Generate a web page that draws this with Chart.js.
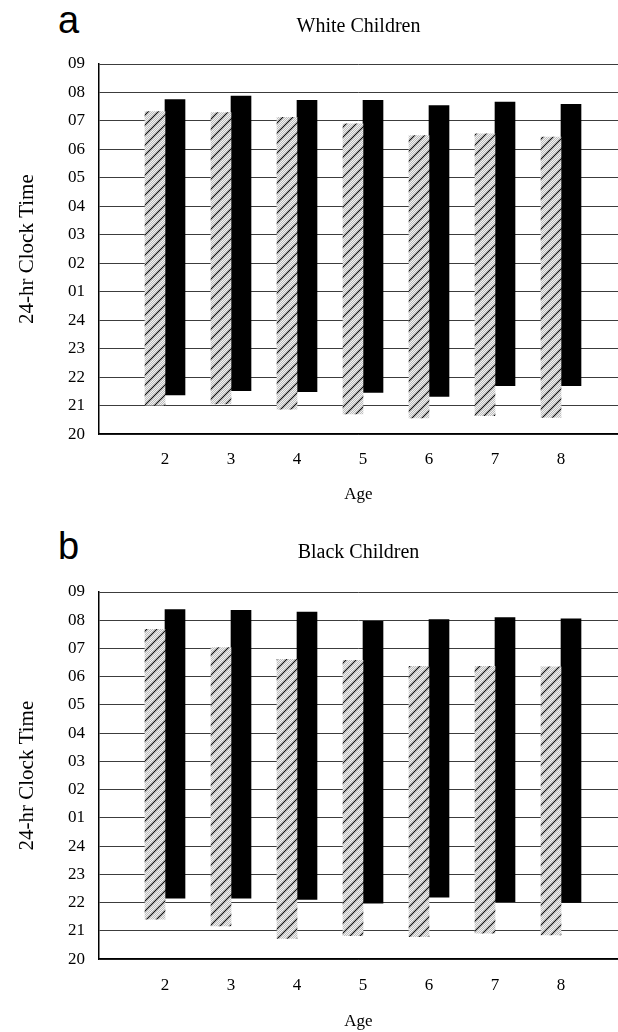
<!DOCTYPE html>
<html>
<head>
<meta charset="utf-8">
<script src="https://cdn.jsdelivr.net/npm/chart.js@4.4.1/dist/chart.umd.min.js"></script>
<style>
  html, body { margin: 0; padding: 0; background: #fff; }
  body { width: 618px; height: 1032px; position: relative; overflow: hidden; }
  .panel { position: absolute; left: 0; width: 618px; }
  .letter { position: absolute; left: 58px; font: 38px/1 "Liberation Sans", Arial, sans-serif; color: #000; }
</style>
</head>
<body>
<div class="letter" style="top:1px">a</div>
<div class="letter" style="top:527px">b</div>
<div class="panel" style="top:0;height:516px"><canvas id="chartWhite" width="618" height="516"></canvas></div>
<div class="panel" style="top:516px;height:516px"><canvas id="chartBlack" width="618" height="516"></canvas></div>
<script>
// hours on a continuous scale: 24 = midnight, 25 = 01, ... 33 = 09
const ages = [2, 3, 4, 5, 6, 7, 8];
const yTickLabels = ['20', '21', '22', '23', '24', '01', '02', '03', '04', '05', '06', '07', '08', '09'];

const whiteHatchedStart = [21.02, 21.06, 20.88, 20.71, 20.57, 20.65, 20.59];
const whiteHatchedEnd   = [31.33, 31.29, 31.13, 30.90, 30.49, 30.55, 30.43];
const whiteSolidStart   = [21.38, 21.53, 21.49, 21.47, 21.33, 21.70, 21.70];
const whiteSolidEnd     = [31.75, 31.87, 31.72, 31.72, 31.54, 31.66, 31.58];

const blackHatchedStart = [21.42, 21.18, 20.74, 20.83, 20.80, 20.92, 20.86];
const blackHatchedEnd   = [31.68, 31.03, 30.62, 30.58, 30.37, 30.37, 30.35];
const blackSolidStart   = [22.16, 22.16, 22.12, 21.98, 22.20, 22.04, 22.01];
const blackSolidEnd     = [32.38, 32.35, 32.29, 31.96, 32.02, 32.09, 32.05];

const serif = '"Liberation Serif", "Times New Roman", serif';

// stippled grey with "/" hatching
function hatchPattern() {
  const tile = document.createElement('canvas');
  tile.width = 10; tile.height = 10;
  const c = tile.getContext('2d');
  for (let y = 0; y < 10; y++) {
    for (let x = 0; x < 10; x++) {
      c.fillStyle = (x + y) % 2 ? '#bdbdbd' : '#f2f2f2';
      c.fillRect(x, y, 1, 1);
    }
  }
  c.strokeStyle = '#111';
  c.lineWidth = 1.2;
  c.beginPath();
  c.moveTo(-1, 11); c.lineTo(11, -1);
  c.moveTo(-1, 1); c.lineTo(1, -1);
  c.moveTo(9, 11); c.lineTo(11, 9);
  c.stroke();
  return c.createPattern(tile, 'repeat');
}

function pairs(lo, hi) {
  return ages.map((a, i) => ({ x: a, y: [lo[i], hi[i]] }));
}

function makeChart(id, title, hLo, hHi, sLo, sHi, lay) {
  const ctx = document.getElementById(id);
  return new Chart(ctx, {
    type: 'bar',
    data: {
      datasets: [
        { label: 'hatched', data: pairs(hLo, hHi), backgroundColor: hatchPattern(), borderWidth: 0, barThickness: 20 },
        { label: 'solid', data: pairs(sLo, sHi), backgroundColor: '#000', borderWidth: 0, barThickness: 20 }
      ]
    },
    options: {
      responsive: false,
      animation: false,
      events: [],
      layout: { padding: { left: 0, right: 0, top: 0, bottom: lay.bottomPad } },
      plugins: {
        legend: { display: false },
        tooltip: { enabled: false },
        title: {
          display: true,
          text: title,
          fullSize: false,
          color: '#000',
          font: { family: serif, size: 20, weight: 'normal' },
          padding: { top: lay.titleTop, bottom: lay.titleBottom }
        }
      },
      scales: {
        x: {
          type: 'linear',
          offset: false,
          min: 1,
          max: 1 + 519 / 66,
          grid: { display: false, drawTicks: false },
          border: { display: true, color: '#000', width: 1.5 },
          ticks: {
            stepSize: 1,
            includeBounds: false,
            padding: lay.xTickPad,
            color: '#000',
            font: { family: serif, size: 17 },
            maxRotation: 0,
            autoSkip: false,
            callback: (v) => ages.includes(v) ? String(v) : ''
          },
          title: {
            display: true,
            text: 'Age',
            color: '#000',
            font: { family: serif, size: 17 },
            padding: { top: lay.xTitlePad, bottom: 0 }
          }
        },
        y: {
          min: 20,
          max: 33,
          afterFit: (s) => { s.width = 99; },
          grid: { color: '#3c3c3c', lineWidth: 1, drawTicks: false },
          border: { display: true, color: '#000', width: 1.5 },
          ticks: {
            stepSize: 1,
            padding: 14,
            color: '#000',
            font: { family: serif, size: 17 },
            callback: (v) => yTickLabels[v - 20]
          },
          title: {
            display: true,
            text: '24-hr Clock Time',
            color: '#000',
            font: { family: serif, size: 21 },
            padding: { top: 15, bottom: 0 }
          }
        }
      }
    }
  });
}

makeChart('chartWhite', 'White Children', whiteHatchedStart, whiteHatchedEnd, whiteSolidStart, whiteSolidEnd,
  { titleTop: 15, titleBottom: 25, xTickPad: 15, xTitlePad: 0, bottomPad: 11 });
makeChart('chartBlack', 'Black Children', blackHatchedStart, blackHatchedEnd, blackSolidStart, blackSolidEnd,
  { titleTop: 25, titleBottom: 27, xTickPad: 16, xTitlePad: 0, bottomPad: 0 });
</script>
</body>
</html>
